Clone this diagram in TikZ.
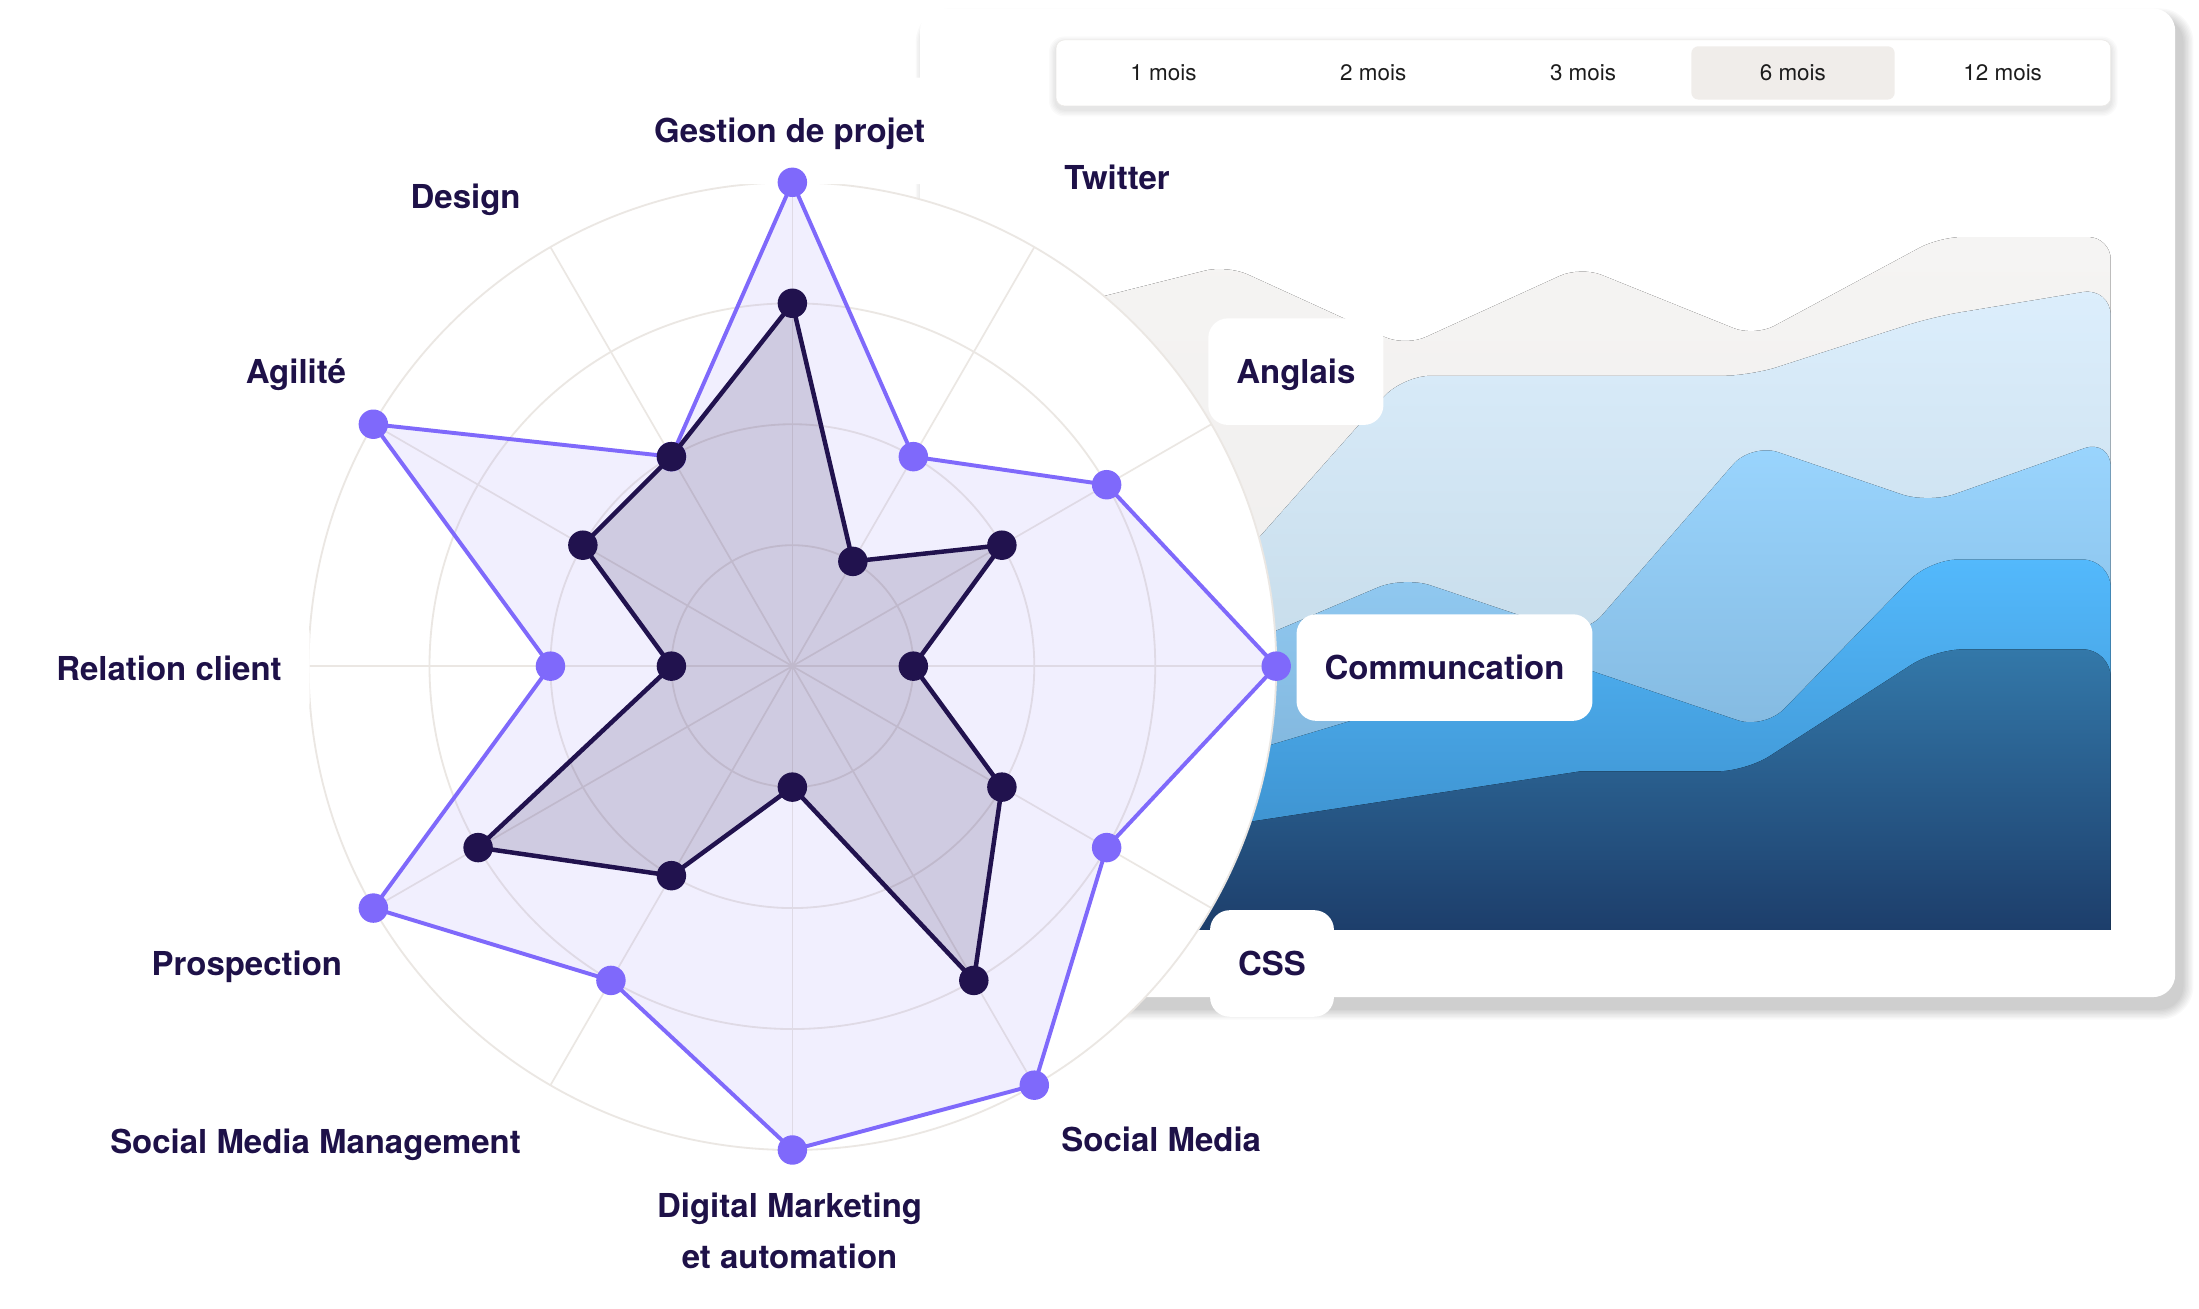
\documentclass[tikz,border=0pt]{standalone}
\usepackage{fontspec}
\setmainfont{TeX Gyre Heros}
\definecolor{ink}{RGB}{30,17,72}
\definecolor{purp}{RGB}{127,105,251}
\definecolor{dark}{RGB}{33,18,78}
\definecolor{ringline}{RGB}{235,231,227}
\definecolor{ringshade}{RGB}{238,237,235}
\definecolor{tabgray}{RGB}{240,237,234}
\definecolor{tabline}{RGB}{236,234,231}
\pgfdeclareradialshading{ringglow}{\pgfpoint{0bp}{0bp}}{color(0bp)=(white); color(44bp)=(white); color(50bp)=(ringshade)}
\tikzset{lbl/.style={fill=white, rounded corners=14pt, inner xsep=20pt, inner ysep=0pt,
		minimum height=76pt, text height=16.9pt, text depth=0pt, text=ink,
		font=\fontsize{23.5}{36}\selectfont\bfseries},
	lblm/.style={inner sep=0pt, anchor=north, align=center, text=ink,
		font=\fontsize{23.5}{36}\selectfont\bfseries},
	tab/.style={font=\fontsize{16}{19}\selectfont, text=black!89}}
\begin{document}
\begin{tikzpicture}[x=1pt,y=-1pt]
\useasboundingbox (0,0) rectangle (1568,933);
\fill[white] (0,0) rectangle (1568,933);
\foreach \k in {1,...,8}
	\fill[black, opacity=0.025, rounded corners={(16+\k)*1pt}] ({661-\k},{14-\k}) rectangle ({1556+\k},{719+\k});
\fill[white, rounded corners=16pt] (656,6) rectangle (1551,711);
\foreach \k in {1,...,5}
	\fill[black, opacity=0.018, rounded corners={(6+\k)*1pt}] ({753-\k},{31-\k}) rectangle ({1505+\k},{78+\k});
\node[draw=tabline, fill=white, rounded corners=6pt, minimum width=752pt, minimum height=47pt, inner sep=0pt] (bar) at (1129,52) {};
\node[fill=tabgray, rounded corners=5pt, minimum width=145pt, minimum height=38pt, inner sep=0pt] (sel) at (1278.5,52) {};
\foreach \t [count=\i] in {1,2,3,6,12}
	\node[tab] (t\i) at ({680+149.6*\i},52) {\t\ mois};
\fill[top color={rgb,255:red,245;green,244;blue,243}, bottom color={rgb,255:red,236;green,234;blue,233}]
	(1505,663) -- (760,663) -- (760,218) [rounded corners=16pt] -- (875,189) -- (1002,247) -- (1127,190) -- (1251,240) -- (1383,169) -- (1505,169) [sharp corners] -- cycle;
\fill[top color={rgb,255:red,220;green,238;blue,252}, bottom color={rgb,255:red,184;green,208;blue,222}]
	(1505,663) -- (760,663) -- (760,539) [rounded corners=20pt] -- (898,383) -- (1000,268) -- (1248,268) -- (1378,226) -- (1505,205) [sharp corners] -- cycle;
\fill[top color={rgb,255:red,154;green,213;blue,254}, bottom color={rgb,255:red,118;green,168;blue,205}]
	(1505,663) -- (760,663) -- (760,513) [rounded corners=20pt] -- (914,448) -- (1001,411) -- (1129,454) -- (1249,316) -- (1375,359) -- (1505,313) [sharp corners] -- cycle;
\fill[top color={rgb,255:red,83;green,185;blue,252}, bottom color={rgb,255:red,55;green,134;blue,193}]
	(1505,663) -- (760,663) -- (760,575) [rounded corners=20pt] -- (1110,470) -- (1258,520) -- (1376,399) -- (1505,399) [sharp corners] -- cycle;
\fill[top color={rgb,255:red,51;green,120;blue,169}, bottom color={rgb,255:red,29;green,62;blue,107}]
	(1505,663) -- (760,663) -- (760,606) -- (1127,550) [rounded corners=20pt] -- (1245,550) -- (1380,463) -- (1505,463) [sharp corners] -- cycle;
\begin{scope}[shift={(565,475)}, y=1pt]
	\foreach \r in {345,258.75,172.5,86.25}
		\shade[shading=ringglow] (0,0) circle (\r);
	\foreach \r in {86.25,172.5,258.75,345}
		\draw[ringline, line width=1.3pt] (0,0) circle (\r);
	\foreach \a in {0,30,...,330}
		\draw[ringline, line width=1.2pt] (0,0) -- (\a:345);
	\foreach \v [count=\i from 0] in {4,2,3,4,3,4,4,3,4,2,4,2}
		\coordinate (a\i) at ({90-30*\i}:{86.25*\v});
	\foreach \v [count=\i from 0] in {3,1,2,1,2,3,1,2,3,1,2,2}
		\coordinate (b\i) at ({90-30*\i}:{86.25*\v});
\end{scope}
\node[lbl] (gestion) at (563,93.3) {Gestion de projet};
\node[lbl] (twitter) at (796.5,127) {Twitter};
\node[lbl] (anglais) at (924,265) {Anglais};
\node[lbl] (comm) at (1030,476) {Communcation};
\node[lbl] (css) at (907,687) {CSS};
\node[lbl] (socmedia) at (828,812.5) {Social Media};
\node[lblm] (digital) at (563,850.5) {Digital Marketing\\et automation};
\node[lbl] (smm) at (225,814) {Social Media Management};
\node[lbl] (prosp) at (176,687) {Prospection};
\node[lbl] (relation) at (120.5,476.5) {Relation client};
\node[lbl] (agilite) at (211,265) {Agilité};
\node[lbl] (design) at (332,140) {Design};
\fill[purp, opacity=0.1] (a0) \foreach \i in {1,...,11}{ -- (a\i)} -- cycle;
\fill[dark, opacity=0.16] (b0) \foreach \i in {1,...,11}{ -- (b\i)} -- cycle;
\draw[purp, line width=2.8pt, line join=round] (a0) \foreach \i in {1,...,11}{ -- (a\i)} -- cycle;
\foreach \i in {0,...,11}
	\fill[purp] (a\i) circle (10.5);
\draw[dark, line width=3.2pt, line join=round] (b0) \foreach \i in {1,...,11}{ -- (b\i)} -- cycle;
\foreach \i in {0,...,11}
	\fill[dark] (b\i) circle (10.5);
\end{tikzpicture}
\end{document}
